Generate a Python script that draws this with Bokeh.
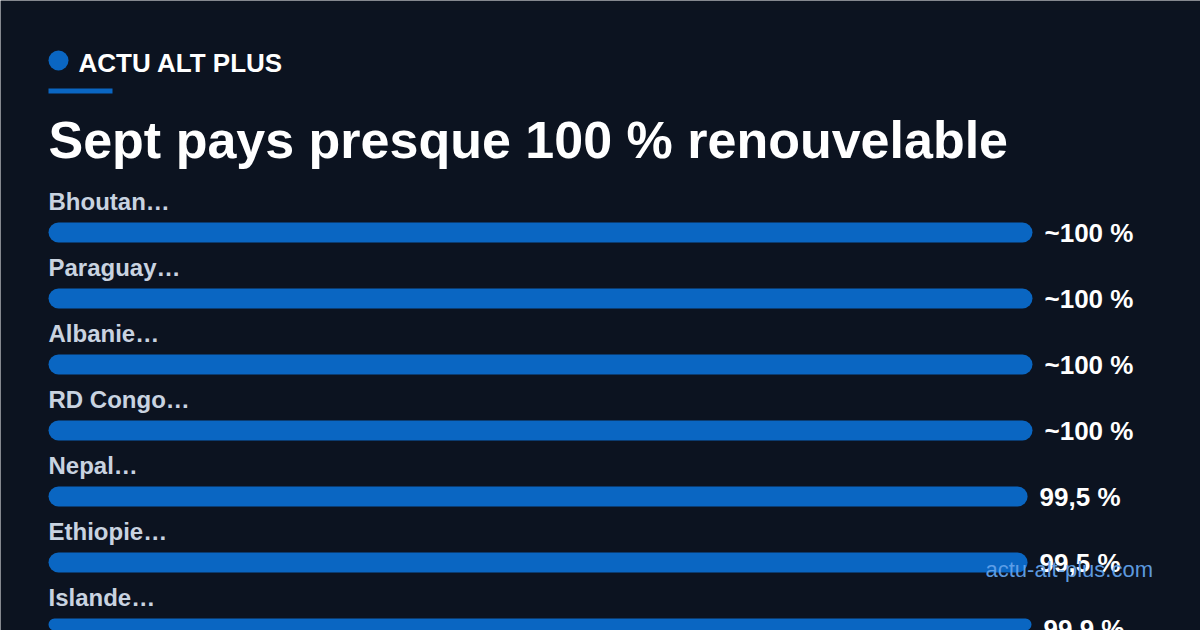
from bokeh.plotting import figure
from bokeh.models import Range1d, ColumnDataSource
from bokeh.core.properties import value
from bokeh.embed import file_html
from bokeh.resources import INLINE

# ---- data ----
countries = ["Bhoutan…", "Paraguay…", "Albanie…", "RD Congo…", "Nepal…", "Ethiopie…", "Islande…"]
shares = [100.0, 100.0, 100.0, 100.0, 99.5, 99.5, 99.9]
value_labels = ["~100 %", "~100 %", "~100 %", "~100 %", "99,5 %", "99,5 %", "99,9 %"]
brand = "ACTU ALT PLUS"
title = "Sept pays presque 100 % renouvelable"
watermark = "actu-alt-plus.com"

# ---- layout constants (reference pixel geometry) ----
BG = "#0c1320"
BAR = "#0a66c2"
W, H = 1200, 630
PX_PER_PCT = 9.84          # horizontal scale
ROW_PX = 66                # vertical pitch of rows
X0_REF, Y0_REF = 48, 232   # pixel of (0 %, row 0 centre)
BASE_SHIFT = 0.385         # svg text baseline compensation (em)

def dx(px):
    return (px - X0_REF) / PX_PER_PCT

def dy(py):
    return (py - Y0_REF) / ROW_PX

def baseline(py, size):
    return dy(py - BASE_SHIFT * size)

p = figure(width=W, height=H, output_backend="svg", toolbar_location=None,
           x_range=Range1d(dx(0), dx(W)), y_range=Range1d(dy(H), dy(0)),
           min_border=0, background_fill_color=BG, border_fill_color=BG)
p.axis.visible = False
p.grid.visible = False
p.outline_line_color = None

FONT = value("Liberation Sans")

rows = list(range(len(countries)))
src = ColumnDataSource(dict(
    y=rows,
    share=shares,
    name=countries,
    vlabel=value_labels,
    label_y=[r + baseline(210, 24) for r in rows],
    val_y=[r + baseline(243, 26) for r in rows],
    val_x=[s + 12 / PX_PER_PCT for s in shares],
))

# bars
p.hbar(y="y", left=0, right="share", height=20 / ROW_PX, source=src,
       fill_color=BAR, line_color=None, border_radius=10)

# country labels
p.text(x=0, y="label_y", text="name", source=src, text_font=FONT,
       text_font_style="bold", text_font_size="24px", text_color="#c9d3e0",
       text_baseline="alphabetic", text_align="left")

# value labels
p.text(x="val_x", y="val_y", text="vlabel", source=src, text_font=FONT,
       text_font_style="bold", text_font_size="26px", text_color="#ffffff",
       text_baseline="alphabetic", text_align="left")

# header: dot, brand, underline
p.scatter(x=[dx(58)], y=[dy(60)], size=20, marker="circle",
          fill_color=BAR, line_color=None)
p.text(x=[dx(78)], y=[baseline(72.5, 26)], text=[brand], text_font=FONT,
       text_font_style="bold", text_font_size="26px", text_color="#ffffff",
       text_baseline="alphabetic")
p.quad(left=[0], right=[dx(112)], top=[dy(88)], bottom=[dy(93)],
       fill_color=BAR, line_color=None)

# title
p.text(x=[0], y=[baseline(160, 52)], text=[title], text_font=FONT,
       text_font_style="bold", text_font_size="52px", text_color="#ffffff",
       text_baseline="alphabetic")

# watermark
p.text(x=[dx(985)], y=[baseline(577, 22)], text=[watermark], text_font=FONT,
       text_font_size="22px", text_color="#62a2ea", text_alpha=0.95,
       text_baseline="alphabetic")

open("out.html", "w").write(file_html(p, INLINE))
